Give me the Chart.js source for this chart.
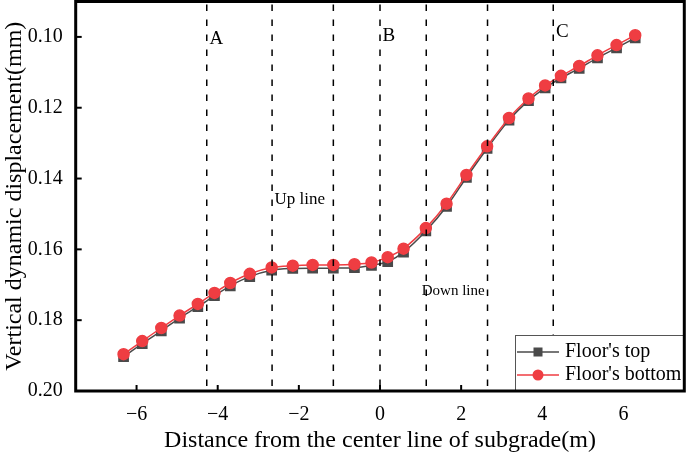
<!DOCTYPE html>
<html>
<head>
<meta charset="utf-8">
<script src="https://cdn.jsdelivr.net/npm/chart.js@4.4.0/dist/chart.umd.min.js"></script>
<style>
    html, body { margin: 0; padding: 0; background: #fff; }
    #wrap { width: 686px; height: 461px; }
</style>
</head>
<body>
<div id="wrap"><canvas id="chart"></canvas></div>
<script>
// distance from centre line (m)
const distance = [-6.32, -5.86, -5.39, -4.94, -4.49, -4.08, -3.69, -3.21, -2.67, -2.15, -1.66, -1.15, -0.63, -0.21,
                  0.19, 0.58, 1.13, 1.64, 2.13, 2.64, 3.18, 3.66, 4.07, 4.46, 4.91, 5.36, 5.83, 6.29];
// vertical dynamic displacement (mm)
const floorTop = [0.1903, 0.1866, 0.1830, 0.1794, 0.1762, 0.1731, 0.1703, 0.1677, 0.1659, 0.1654, 0.1653, 0.1653, 0.1652, 0.1645,
                  0.1635, 0.1608, 0.1548, 0.1479, 0.1397, 0.1315, 0.1235, 0.1180, 0.1144, 0.1116, 0.1089, 0.1059, 0.1031, 0.1003];
const floorBottom = [0.1896, 0.1859, 0.1822, 0.1787, 0.1754, 0.1723, 0.1695, 0.1669, 0.1651, 0.1646, 0.1644, 0.1644, 0.1642, 0.1637,
                     0.1622, 0.1598, 0.1540, 0.1471, 0.1390, 0.1309, 0.1229, 0.1174, 0.1137, 0.1110, 0.1082, 0.1052, 0.1023, 0.0995];
const xTicks = [-6, -4, -2, 0, 2, 4, 6];
const yTicks = [0.10, 0.12, 0.14, 0.16, 0.18, 0.20];
const dividers = [-4.27, -2.66, -1.15, 0, 1.14, 2.65, 4.27];
const zoneNames = ['A', 'B', 'C', 'Up line', 'Down line'];
const zoneX = [-4.20, 0.06, 4.34, -2.60, 1.03];
const zoneY = [0.1006, 0.0997, 0.0986, 0.1459, 0.1718];

const SERIF = '"Liberation Serif", "DejaVu Serif", serif';
const RED = '#ef3d42';
const GREY = '#4a4a4a';

const zoneFont = [19, 19, 19, 17, 15];

function noPad(s) {
    s.paddingTop = 0; s.paddingBottom = 0; s.paddingLeft = 0; s.paddingRight = 0;
}

const decorPlugin = {
    id: 'decor',
    afterDraw(chart) {
        const ctx = chart.ctx;
        const a = chart.chartArea;
        const xs = chart.scales.x, ys = chart.scales.y;
        ctx.save();

        // dashed dividers
        ctx.strokeStyle = '#000';
        ctx.lineWidth = 1.5;
        ctx.setLineDash([6.5, 8.5]);
        dividers.forEach(v => {
            let px = xs.getPixelForValue(v);
            ctx.beginPath();
            ctx.moveTo(px, a.top + 3);
            ctx.lineTo(px, a.bottom);
            ctx.stroke();
        });
        ctx.setLineDash([]);

        // zone labels
        ctx.fillStyle = '#000';
        ctx.textBaseline = 'middle';
        ctx.textAlign = 'left';
        zoneNames.forEach((t, i) => {
            ctx.font = zoneFont[i] + 'px ' + SERIF;
            ctx.fillText(t, xs.getPixelForValue(zoneX[i]), ys.getPixelForValue(zoneY[i]));
        });

        // inward ticks
        ctx.lineWidth = 2;
        xTicks.forEach(v => {
            let px = xs.getPixelForValue(v);
            ctx.beginPath();
            ctx.moveTo(px, a.bottom);
            ctx.lineTo(px, a.bottom - 6);
            ctx.stroke();
        });
        yTicks.forEach(v => {
            let py = ys.getPixelForValue(v);
            ctx.beginPath();
            ctx.moveTo(a.left, py);
            ctx.lineTo(a.left + 6, py);
            ctx.stroke();
        });

        // legend box
        let lx = 515.5, ly = 335.5, lw = a.right - lx, lh = a.bottom - ly;
        ctx.fillStyle = '#fff';
        ctx.fillRect(lx, ly, lw, lh);
        ctx.strokeStyle = '#555';
        ctx.lineWidth = 1;
        ctx.strokeRect(lx, ly, lw, lh);

        const entries = [
            { text: "Floor's top", color: GREY, y: 352, shape: 'rect' },
            { text: "Floor's bottom", color: RED, y: 375, shape: 'circle' }
        ];
        entries.forEach(e => {
            ctx.strokeStyle = e.color;
            ctx.lineWidth = 1.5;
            ctx.beginPath();
            ctx.moveTo(517, e.y);
            ctx.lineTo(559, e.y);
            ctx.stroke();
            ctx.fillStyle = e.color;
            if (e.shape === 'rect') {
                ctx.fillRect(533.5, e.y - 4.5, 9, 9);
            } else {
                ctx.beginPath();
                ctx.arc(538, e.y, 5.5, 0, Math.PI * 2);
                ctx.fill();
            }
            ctx.fillStyle = '#000';
            ctx.font = '20px ' + SERIF;
            ctx.fillText(e.text, 565, e.y);
        });

        // frame
        ctx.strokeStyle = '#000';
        ctx.lineWidth = 3;
        ctx.strokeRect(a.left, a.top, a.right - a.left, a.bottom - a.top);
        ctx.restore();
    }
};

const ctx = document.getElementById('chart').getContext('2d');
new Chart(ctx, {
    type: 'line',
    data: {
        datasets: [
            {
                label: "Floor's top",
                data: distance.map((d, i) => ({ x: d, y: floorTop[i] })),
                borderColor: GREY, backgroundColor: GREY,
                borderWidth: 1.5, pointStyle: 'rect', pointRadius: 6.5,
                tension: 0.3, order: 2
            },
            {
                label: "Floor's bottom",
                data: distance.map((d, i) => ({ x: d, y: floorBottom[i] })),
                borderColor: RED, backgroundColor: RED,
                borderWidth: 1.5, pointStyle: 'circle', pointRadius: 5.5,
                tension: 0.3, order: 1
            }
        ]
    },
    options: {
        responsive: true,
        maintainAspectRatio: false,
        animation: false,
        layout: { autoPadding: false, padding: { top: 1.5, right: 1.7, left: 0, bottom: 0 } },
        plugins: { legend: { display: false }, tooltip: { enabled: false } },
        scales: {
            x: {
                type: 'linear', min: -7.5, max: 7.5,
                afterFit: s => { s.height = 70; noPad(s); },
                afterBuildTicks: s => { s.ticks = xTicks.map(v => ({ value: v })); },
                grid: { display: false, drawTicks: false },
                border: { display: false },
                ticks: {
                    color: '#000', padding: 12,
                    font: { family: SERIF, size: 20 },
                    callback: v => String(v).replace('-', '\u2212')
                },
                title: {
                    display: true, text: 'Distance from the center line of subgrade(m)',
                    color: '#000', font: { family: SERIF, size: 24 }, padding: { top: 0, bottom: 6 }
                }
            },
            y: {
                type: 'linear', min: 0.09, max: 0.20, reverse: true,
                afterFit: s => { s.width = 75.7; noPad(s); },
                afterBuildTicks: s => { s.ticks = yTicks.map(v => ({ value: v })); },
                grid: { display: false, drawTicks: false },
                border: { display: false },
                ticks: {
                    color: '#000', padding: 13,
                    font: { family: SERIF, size: 20 },
                    callback: v => v.toFixed(2)
                },
                title: {
                    display: true, text: 'Vertical dynamic displacement(mm)',
                    color: '#000', font: { family: SERIF, size: 24 }, padding: { top: 0, bottom: 0 }
                }
            }
        }
    },
    plugins: [decorPlugin]
});
</script>
</body>
</html>
